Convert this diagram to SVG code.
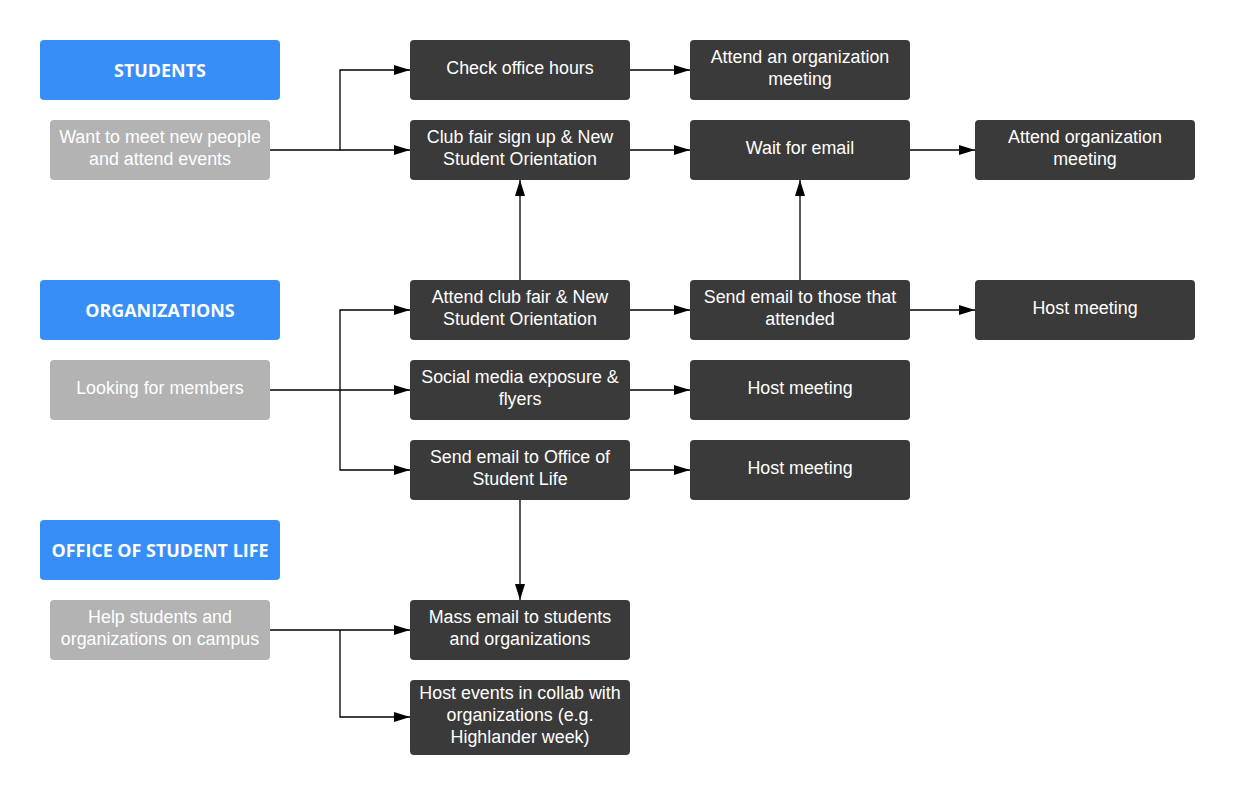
<svg xmlns="http://www.w3.org/2000/svg" width="1235" height="795" viewBox="0 0 1235 795">
<style>
.hdr{fill:#388ef7}
.gry{fill:#b3b3b3}
.drk{fill:#3a3a3a}
.ht{font-family:"Open Sans","Liberation Sans",sans-serif;font-weight:bold;font-size:17.9px;fill:#fff;text-anchor:middle}
.t{font-family:"Liberation Sans",Arial,sans-serif;font-size:17.85px;fill:#fff;text-anchor:middle}
.c{fill:none;stroke:#000;stroke-width:1.3}
</style>
<defs>
<marker id="a" viewBox="0 0 16 10" refX="16" refY="5" markerWidth="16" markerHeight="10" markerUnits="userSpaceOnUse" orient="auto">
<path d="M0,0 L16,5 L0,10 z" fill="#000"/>
</marker>
</defs>
<rect width="1235" height="795" fill="#fff"/>
<g id="connectors">
<path class="c" d="M270,150 H340 V70 H410" marker-end="url(#a)"/>
<path class="c" d="M340,150 H410" marker-end="url(#a)"/>
<path class="c" d="M630,70 H690" marker-end="url(#a)"/>
<path class="c" d="M630,150 H690" marker-end="url(#a)"/>
<path class="c" d="M910,150 H975" marker-end="url(#a)"/>
<path class="c" d="M520,280 V180" marker-end="url(#a)"/>
<path class="c" d="M800,280 V180" marker-end="url(#a)"/>
<path class="c" d="M630,310 H690" marker-end="url(#a)"/>
<path class="c" d="M910,310 H975" marker-end="url(#a)"/>
<path class="c" d="M270,390 H340 V310 H410" marker-end="url(#a)"/>
<path class="c" d="M340,390 H410" marker-end="url(#a)"/>
<path class="c" d="M340,390 V470 H410" marker-end="url(#a)"/>
<path class="c" d="M630,390 H690" marker-end="url(#a)"/>
<path class="c" d="M630,470 H690" marker-end="url(#a)"/>
<path class="c" d="M520,500 V600" marker-end="url(#a)"/>
<path class="c" d="M270,630 H410" marker-end="url(#a)"/>
<path class="c" d="M340,630 V717 H410" marker-end="url(#a)"/>
</g>
<g id="students"><rect class="hdr" x="40" y="40" width="240" height="60" rx="4"/><text class="ht" x="160" y="77">STUDENTS</text></g>
<g id="want"><rect class="gry" x="50" y="120" width="220" height="60" rx="4"/><text class="t" x="160" y="143">Want to meet new people</text><text class="t" x="160" y="165">and attend events</text></g>
<g id="organizations"><rect class="hdr" x="40" y="280" width="240" height="60" rx="4"/><text class="ht" x="160" y="317">ORGANIZATIONS</text></g>
<g id="looking"><rect class="gry" x="50" y="360" width="220" height="60" rx="4"/><text class="t" x="160" y="394">Looking for members</text></g>
<g id="osl"><rect class="hdr" x="40" y="520" width="240" height="60" rx="4"/><text class="ht" x="160" y="557">OFFICE OF STUDENT LIFE</text></g>
<g id="help"><rect class="gry" x="50" y="600" width="220" height="60" rx="4"/><text class="t" x="160" y="623">Help students and</text><text class="t" x="160" y="645">organizations on campus</text></g>

<g id="check"><rect class="drk" x="410" y="40" width="220" height="60" rx="4"/><text class="t" x="520" y="74">Check office hours</text></g>
<g id="clubfair"><rect class="drk" x="410" y="120" width="220" height="60" rx="4"/><text class="t" x="520" y="143">Club fair sign up &amp; New</text><text class="t" x="520" y="165">Student Orientation</text></g>
<g id="attendorg1"><rect class="drk" x="690" y="40" width="220" height="60" rx="4"/><text class="t" x="800" y="63">Attend an organization</text><text class="t" x="800" y="85">meeting</text></g>
<g id="wait"><rect class="drk" x="690" y="120" width="220" height="60" rx="4"/><text class="t" x="800" y="154">Wait for email</text></g>
<g id="attendorg2"><rect class="drk" x="975" y="120" width="220" height="60" rx="4"/><text class="t" x="1085" y="143">Attend organization</text><text class="t" x="1085" y="165">meeting</text></g>

<g id="attendclub"><rect class="drk" x="410" y="280" width="220" height="60" rx="4"/><text class="t" x="520" y="303">Attend club fair &amp; New</text><text class="t" x="520" y="325">Student Orientation</text></g>
<g id="sendattended"><rect class="drk" x="690" y="280" width="220" height="60" rx="4"/><text class="t" x="800" y="303">Send email to those that</text><text class="t" x="800" y="325">attended</text></g>
<g id="host1"><rect class="drk" x="975" y="280" width="220" height="60" rx="4"/><text class="t" x="1085" y="314">Host meeting</text></g>
<g id="social"><rect class="drk" x="410" y="360" width="220" height="60" rx="4"/><text class="t" x="520" y="383">Social media exposure &amp;</text><text class="t" x="520" y="405">flyers</text></g>
<g id="host2"><rect class="drk" x="690" y="360" width="220" height="60" rx="4"/><text class="t" x="800" y="394">Host meeting</text></g>
<g id="sendosl"><rect class="drk" x="410" y="440" width="220" height="60" rx="4"/><text class="t" x="520" y="463">Send email to Office of</text><text class="t" x="520" y="485">Student Life</text></g>
<g id="host3"><rect class="drk" x="690" y="440" width="220" height="60" rx="4"/><text class="t" x="800" y="474">Host meeting</text></g>

<g id="mass"><rect class="drk" x="410" y="600" width="220" height="60" rx="4"/><text class="t" x="520" y="623">Mass email to students</text><text class="t" x="520" y="645">and organizations</text></g>
<g id="hostevents"><rect class="drk" x="410" y="680" width="220" height="75" rx="4"/><text class="t" x="520" y="699">Host events in collab with</text><text class="t" x="520" y="721">organizations (e.g.</text><text class="t" x="520" y="743">Highlander week)</text></g>
</svg>
